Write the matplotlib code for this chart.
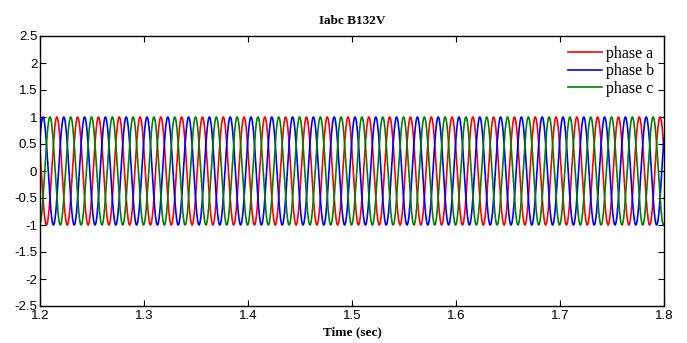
import numpy as np
import matplotlib
matplotlib.use("Agg")
import matplotlib.pyplot as plt

# Signal description
phase_labels = ["phase a", "phase b", "phase c"]
phase_colors = ["#ff0000", "#0000ff", "#008000"]
amplitude = 1.0            # per-unit peak
frequency_hz = 50.0        # 30 cycles between 1.2 and 1.8 s
phase_shift_deg = [158.0, 38.0, -82.0]   # sin-form phase angles
t_start, t_end = 1.2, 1.8
n_samples = 6001

x_ticks = [1.2, 1.3, 1.4, 1.5, 1.6, 1.7, 1.8]
y_ticks = [-2.5, -2, -1.5, -1, -0.5, 0, 0.5, 1, 1.5, 2, 2.5]
y_ticklabels = ["-2.5", "-2", "-1.5", "-1", "-0.5", "0", "0.5", "1", "1.5", "2", "2.5"]
title = "Iabc B132V"
xlabel = "Time (sec)"

t = np.linspace(t_start, t_end, n_samples)

fig = plt.figure(figsize=(6.87, 3.43), dpi=100)
ax = fig.add_axes([40 / 687, 1 - 306 / 343, (664 - 40) / 687, (306 - 36) / 343])

for lbl, col, ph in zip(phase_labels, phase_colors, phase_shift_deg):
    y = amplitude * np.sin(2 * np.pi * frequency_hz * t + np.deg2rad(ph))
    ax.plot(t, y, color=col, lw=1.2, label=lbl)

ax.set_xlim(t_start, t_end)
ax.set_ylim(-2.5, 2.5)
ax.set_xticks(x_ticks)
ax.set_xticklabels([f"{v:.1f}" for v in x_ticks])
ax.set_yticks(y_ticks)
ax.set_yticklabels(y_ticklabels)
ax.tick_params(direction="in", top=True, right=True, length=4, width=0.8,
               labelsize=9.5, pad=2)
ax.tick_params(axis="x", pad=3)
for lab in ax.get_xticklabels() + ax.get_yticklabels():
    lab.set_family("Liberation Sans")
for s in ax.spines.values():
    s.set_linewidth(1.0)

ax.set_title(title, fontfamily="Liberation Serif", fontweight="bold", fontsize=9.5, pad=9)
ax.set_xlabel(xlabel, fontfamily="Liberation Serif", fontweight="bold", fontsize=9.5, labelpad=3)

leg = ax.legend(loc="upper right", frameon=False, prop={"family": "Liberation Serif", "size": 11.5},
                handlelength=2.1, handletextpad=0.3, labelspacing=0.1,
                borderaxespad=0.3, borderpad=0.3)

fig.savefig("out.png", dpi=100)
